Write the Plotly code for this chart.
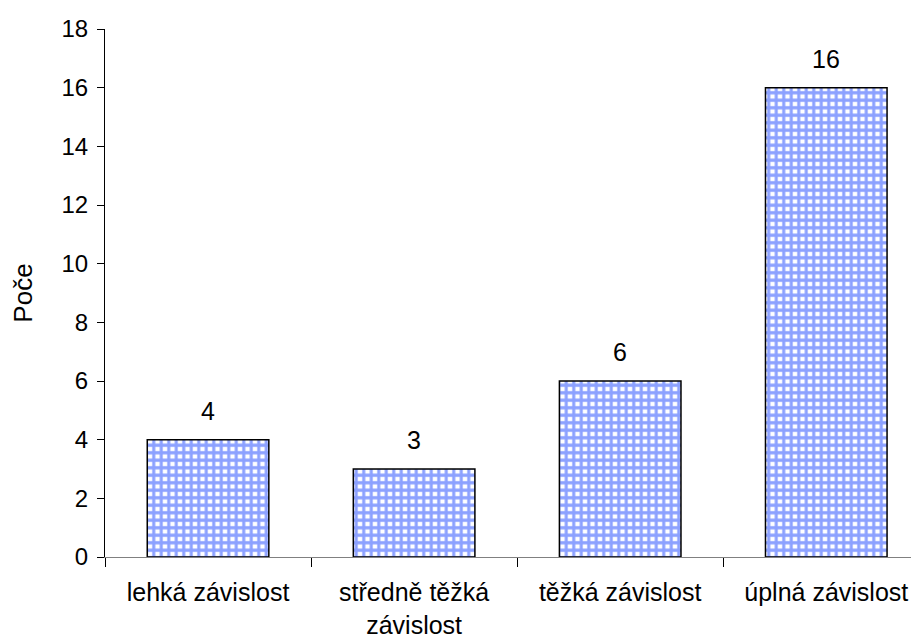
import plotly.graph_objects as go

categories = ["lehká závislost", "středně těžká<br>závislost", "těžká závislost", "úplná závislost"]
values = [4, 3, 6, 16]
y_ticks = [0, 2, 4, 6, 8, 10, 12, 14, 16, 18]

font = "Liberation Sans, Arial, sans-serif"

fig = go.Figure()
fig.add_trace(go.Bar(
    x=categories, y=values,
    marker=dict(
        color="white",
        line=dict(color="black", width=1.5),
        pattern=dict(shape="+", fgcolor="#1a44ff", bgcolor="white", size=7.5, solidity=0.65),
    ),
    width=0.59,
    hoverinfo="skip",
))

for c, v in zip(categories, values):
    fig.add_annotation(x=c, y=v, text=str(v), showarrow=False, yshift=29, yanchor="middle",
                       font=dict(family=font, size=25, color="black"))

fig.update_layout(
    width=911, height=631,
    margin=dict(l=97, r=0, t=21, b=82),
    paper_bgcolor="white", plot_bgcolor="white",
    showlegend=False,
    font=dict(family=font, size=24, color="black"),
)
fig.update_xaxes(
    type="category", range=[-0.5, 3.45], automargin=False,
    showline=True, linecolor="#808080", linewidth=1,
    ticks="outside", tickson="boundaries", ticklen=9, tickcolor="black", tickwidth=1,
    ticklabelstandoff=13,
    tickfont=dict(family=font, size=25, color="black"),
    showgrid=False, zeroline=False,
)
fig.update_yaxes(
    range=[0, 18], tickvals=y_ticks, automargin=False,
    showline=True, linecolor="black", linewidth=1,
    ticks="outside", ticklen=7, tickcolor="black", ticklabelstandoff=4,
    tickfont=dict(family=font, size=24, color="black"),
    showgrid=False, zeroline=False,
    title=dict(text="Poče", font=dict(family=font, size=26, color="black"), standoff=23),
)

fig.write_html("out.html")
